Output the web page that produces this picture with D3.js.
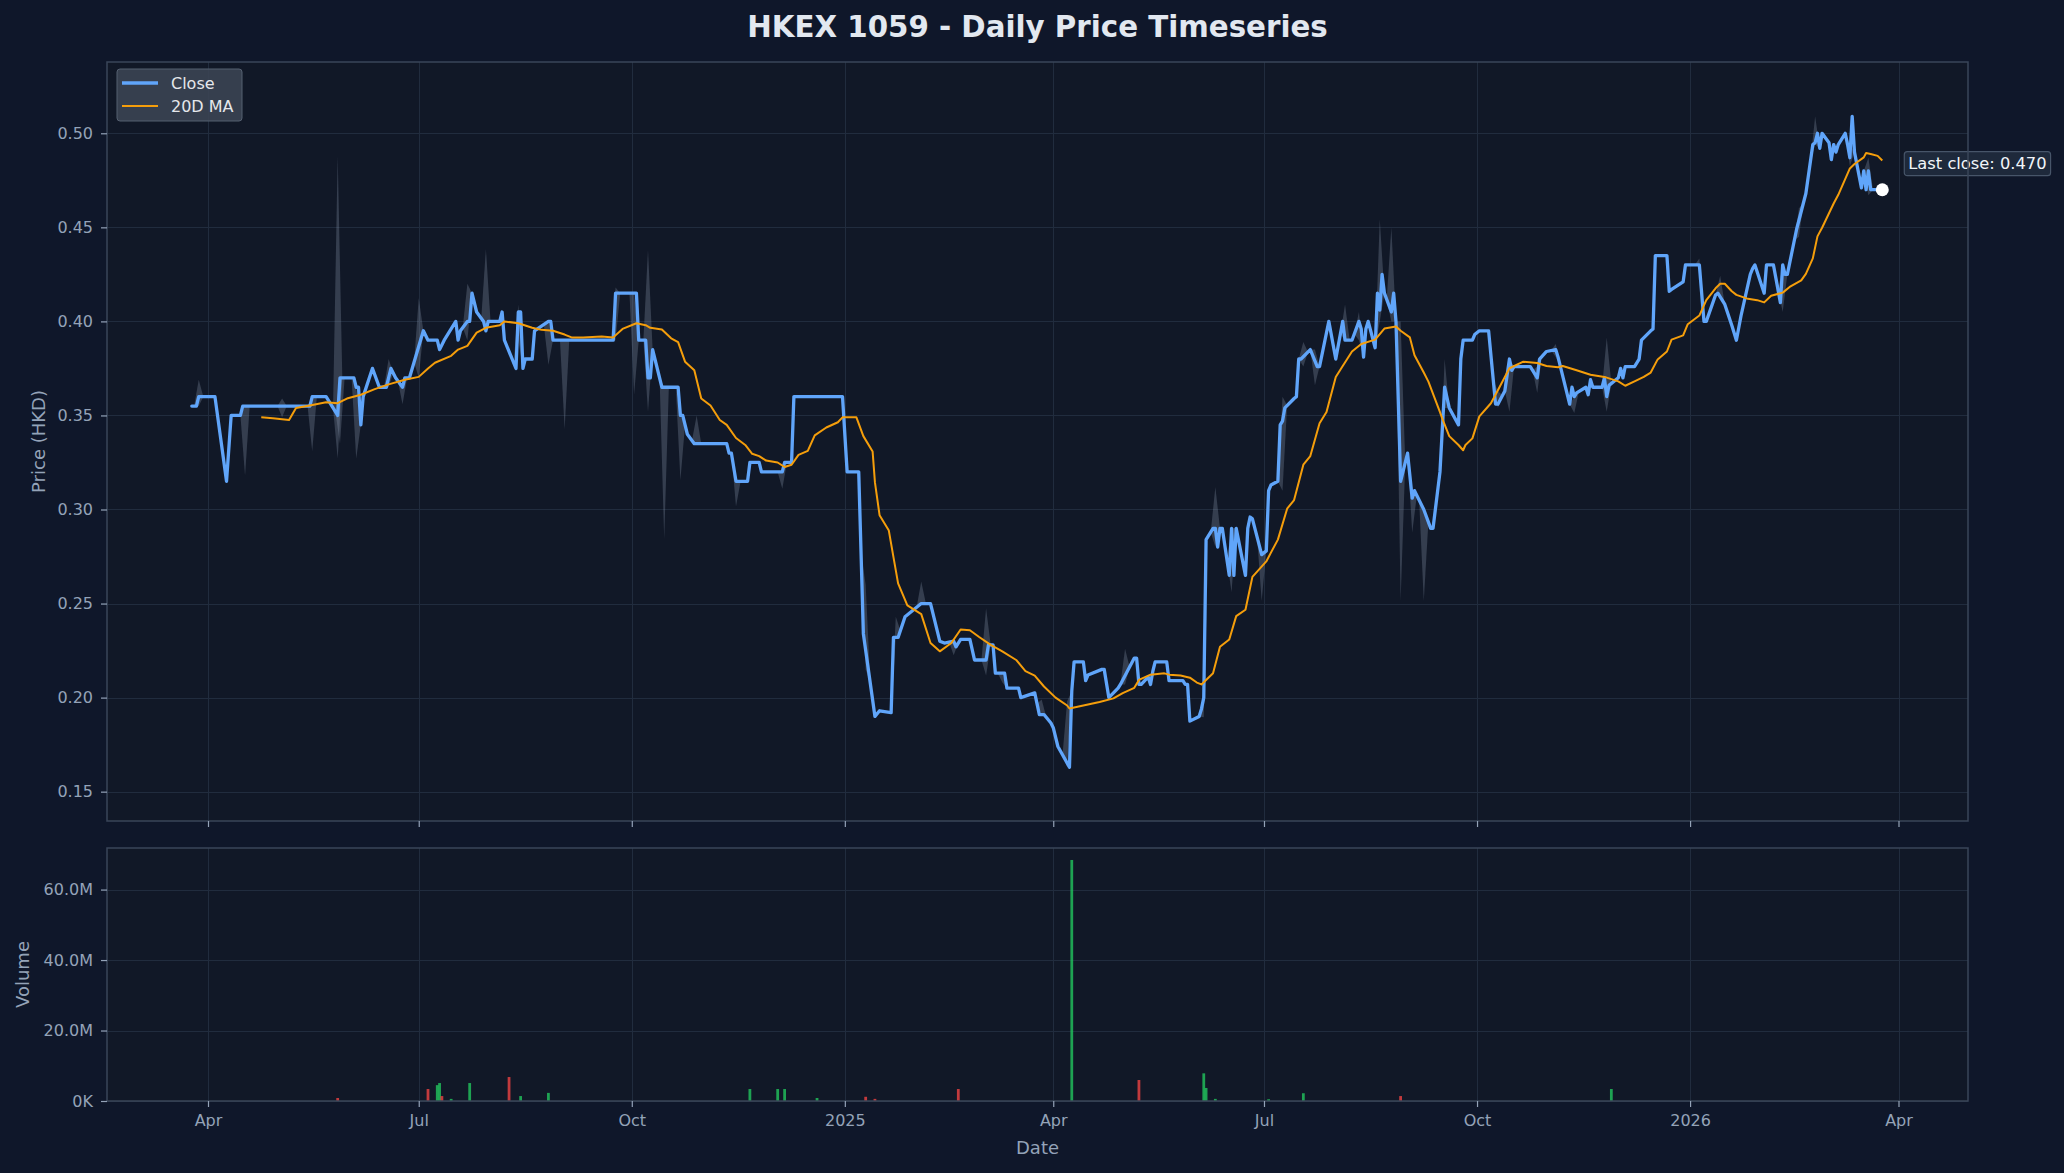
<!DOCTYPE html>
<html><head><meta charset="utf-8">
<script src="https://cdn.jsdelivr.net/npm/d3@7"></script>
<style>
html,body{margin:0;padding:0;background:#0f172a;}
svg{display:block;}
text{font-family:"DejaVu Sans",sans-serif;}
</style></head><body>
<svg id="chart" width="2064" height="1173"></svg>
<script>
// ---------------- DATA ----------------
const closeData = [
["2024-03-25",0.355],["2024-03-27",0.355],["2024-03-28",0.36],["2024-04-04",0.36],["2024-04-09",0.315],
["2024-04-11",0.35],["2024-04-15",0.35],["2024-04-16",0.355],["2024-05-15",0.355],["2024-05-16",0.36],
["2024-05-22",0.36],["2024-05-27",0.35],["2024-05-28",0.37],["2024-06-03",0.37],["2024-06-04",0.365],
["2024-06-05",0.365],["2024-06-06",0.345],["2024-06-07",0.36],["2024-06-11",0.375],["2024-06-14",0.365],
["2024-06-17",0.365],["2024-06-19",0.375],["2024-06-21",0.37],["2024-06-24",0.365],["2024-06-25",0.37],
["2024-06-27",0.37],["2024-07-03",0.395],["2024-07-05",0.39],["2024-07-09",0.39],["2024-07-10",0.385],
["2024-07-12",0.39],["2024-07-17",0.40],["2024-07-18",0.39],["2024-07-19",0.395],["2024-07-22",0.40],
["2024-07-23",0.40],["2024-07-24",0.415],["2024-07-26",0.405],["2024-07-29",0.40],["2024-07-30",0.395],
["2024-07-31",0.40],["2024-08-05",0.40],["2024-08-06",0.405],["2024-08-07",0.39],["2024-08-12",0.375],
["2024-08-13",0.405],["2024-08-14",0.405],["2024-08-15",0.375],["2024-08-16",0.38],["2024-08-19",0.38],
["2024-08-20",0.395],["2024-08-26",0.40],["2024-08-27",0.40],["2024-08-28",0.39],["2024-09-23",0.39],
["2024-09-24",0.415],["2024-10-03",0.415],["2024-10-04",0.39],["2024-10-07",0.39],["2024-10-08",0.37],
["2024-10-09",0.37],["2024-10-10",0.385],["2024-10-14",0.365],["2024-10-21",0.365],["2024-10-22",0.35],
["2024-10-23",0.35],["2024-10-25",0.34],["2024-10-28",0.335],["2024-11-11",0.335],["2024-11-12",0.33],
["2024-11-13",0.33],["2024-11-15",0.315],["2024-11-20",0.315],["2024-11-21",0.325],["2024-11-25",0.325],
["2024-11-26",0.32],["2024-12-05",0.32],["2024-12-06",0.325],["2024-12-09",0.325],["2024-12-10",0.36],
["2024-12-31",0.36],["2025-01-02",0.32],["2025-01-07",0.32],["2025-01-09",0.234],["2025-01-14",0.19],
["2025-01-16",0.193],["2025-01-21",0.192],["2025-01-22",0.232],["2025-01-24",0.232],["2025-01-27",0.243],
["2025-02-03",0.25],["2025-02-07",0.25],["2025-02-11",0.23],["2025-02-13",0.229],["2025-02-17",0.23],
["2025-02-18",0.227],["2025-02-20",0.231],["2025-02-24",0.231],["2025-02-26",0.22],["2025-03-03",0.22],
["2025-03-04",0.228],["2025-03-06",0.228],["2025-03-07",0.213],["2025-03-11",0.213],["2025-03-12",0.205],
["2025-03-17",0.205],["2025-03-18",0.20],["2025-03-24",0.2025],["2025-03-26",0.191],["2025-03-28",0.191],
["2025-03-31",0.1865],["2025-04-01",0.184],["2025-04-03",0.174],["2025-04-08",0.163],["2025-04-09",0.2035],
["2025-04-10",0.219],["2025-04-14",0.219],["2025-04-15",0.209],["2025-04-16",0.212],["2025-04-22",0.215],
["2025-04-23",0.215],["2025-04-25",0.20],["2025-04-29",0.205],["2025-04-30",0.207],["2025-05-06",0.221],
["2025-05-07",0.221],["2025-05-08",0.207],["2025-05-09",0.207],["2025-05-12",0.211],["2025-05-13",0.207],
["2025-05-14",0.214],["2025-05-15",0.219],["2025-05-20",0.219],["2025-05-21",0.209],["2025-05-27",0.209],
["2025-05-28",0.207],["2025-05-29",0.207],["2025-05-30",0.1875],["2025-06-03",0.19],["2025-06-04",0.194],
["2025-06-05",0.20],["2025-06-06",0.284],["2025-06-09",0.29],["2025-06-10",0.29],["2025-06-11",0.28],
["2025-06-12",0.29],["2025-06-13",0.29],["2025-06-16",0.265],["2025-06-17",0.29],["2025-06-18",0.265],
["2025-06-19",0.29],["2025-06-23",0.265],["2025-06-24",0.29],["2025-06-25",0.296],["2025-06-26",0.295],
["2025-06-30",0.276],["2025-07-02",0.278],["2025-07-03",0.31],["2025-07-04",0.313],["2025-07-07",0.315],
["2025-07-08",0.345],["2025-07-09",0.347],["2025-07-10",0.354],["2025-07-14",0.359],["2025-07-15",0.36],
["2025-07-16",0.38],["2025-07-17",0.38],["2025-07-21",0.385],["2025-07-24",0.376],["2025-07-25",0.376],
["2025-07-29",0.40],["2025-08-01",0.38],["2025-08-04",0.40],["2025-08-05",0.39],["2025-08-08",0.39],
["2025-08-11",0.40],["2025-08-12",0.396],["2025-08-13",0.381],["2025-08-14",0.396],["2025-08-15",0.40],
["2025-08-18",0.386],["2025-08-19",0.415],["2025-08-20",0.406],["2025-08-21",0.425],["2025-08-22",0.415],
["2025-08-25",0.405],["2025-08-26",0.415],["2025-08-27",0.40],["2025-08-29",0.315],["2025-09-01",0.33],
["2025-09-03",0.306],["2025-09-04",0.31],["2025-09-08",0.30],["2025-09-11",0.29],["2025-09-12",0.29],
["2025-09-15",0.32],["2025-09-17",0.365],["2025-09-19",0.354],["2025-09-23",0.345],["2025-09-24",0.38],
["2025-09-25",0.39],["2025-09-29",0.39],["2025-09-30",0.393],["2025-10-02",0.395],["2025-10-06",0.395],
["2025-10-09",0.356],["2025-10-10",0.356],["2025-10-13",0.363],["2025-10-15",0.38],["2025-10-16",0.374],
["2025-10-17",0.376],["2025-10-24",0.376],["2025-10-27",0.37],["2025-10-28",0.38],["2025-10-31",0.384],
["2025-11-04",0.385],["2025-11-05",0.381],["2025-11-06",0.376],["2025-11-10",0.356],["2025-11-11",0.365],
["2025-11-12",0.36],["2025-11-13",0.362],["2025-11-17",0.365],["2025-11-18",0.361],["2025-11-19",0.369],
["2025-11-20",0.365],["2025-11-24",0.365],["2025-11-25",0.37],["2025-11-26",0.36],["2025-11-27",0.366],
["2025-12-01",0.37],["2025-12-02",0.375],["2025-12-03",0.37],["2025-12-04",0.376],["2025-12-08",0.376],
["2025-12-10",0.38],["2025-12-11",0.39],["2025-12-15",0.395],["2025-12-16",0.396],["2025-12-17",0.435],
["2025-12-22",0.435],["2025-12-23",0.416],["2025-12-24",0.417],["2025-12-29",0.421],["2025-12-30",0.43],
["2026-01-05",0.43],["2026-01-07",0.40],["2026-01-08",0.40],["2026-01-12",0.414],["2026-01-13",0.415],
["2026-01-14",0.413],["2026-01-16",0.409],["2026-01-19",0.398],["2026-01-21",0.39],["2026-01-23",0.403],
["2026-01-27",0.425],["2026-01-28",0.428],["2026-01-29",0.43],["2026-02-02",0.415],["2026-02-03",0.43],
["2026-02-06",0.43],["2026-02-09",0.41],["2026-02-10",0.43],["2026-02-11",0.425],["2026-02-12",0.425],
["2026-02-16",0.449],["2026-02-20",0.468],["2026-02-23",0.494],["2026-02-24",0.495],["2026-02-25",0.50],
["2026-02-26",0.492],["2026-02-27",0.50],["2026-03-02",0.495],["2026-03-03",0.486],["2026-03-04",0.494],
["2026-03-05",0.49],["2026-03-06",0.494],["2026-03-09",0.50],["2026-03-10",0.494],["2026-03-11",0.487],
["2026-03-12",0.509],["2026-03-13",0.49],["2026-03-16",0.471],["2026-03-17",0.48],["2026-03-18",0.47],
["2026-03-19",0.48],["2026-03-20",0.47],["2026-03-25",0.47]
];

const maData = [
["2024-04-24",0.349],["2024-04-29",0.3485],["2024-05-06",0.3476],["2024-05-09",0.354],["2024-05-15",0.3553],
["2024-05-22",0.357],["2024-05-27",0.3565],["2024-05-31",0.359],["2024-06-06",0.361],["2024-06-12",0.364],
["2024-06-18",0.3665],["2024-06-25",0.369],["2024-07-01",0.3705],["2024-07-05",0.375],["2024-07-08",0.378],
["2024-07-15",0.3817],["2024-07-18",0.385],["2024-07-22",0.387],["2024-07-26",0.394],["2024-07-30",0.3966],
["2024-08-05",0.398],["2024-08-07",0.40],["2024-08-13",0.399],["2024-08-19",0.3966],["2024-08-23",0.3955],
["2024-08-28",0.395],["2024-09-02",0.393],["2024-09-05",0.3915],["2024-09-10",0.3915],["2024-09-18",0.392],
["2024-09-23",0.3915],["2024-09-27",0.396],["2024-10-03",0.399],["2024-10-07",0.398],["2024-10-09",0.3966],
["2024-10-14",0.3957],["2024-10-18",0.391],["2024-10-21",0.389],["2024-10-24",0.3786],["2024-10-28",0.374],
["2024-10-31",0.359],["2024-11-04",0.3553],["2024-11-08",0.3476],["2024-11-11",0.345],["2024-11-15",0.338],
["2024-11-19",0.3343],["2024-11-22",0.3296],["2024-11-25",0.3284],["2024-11-28",0.326],["2024-12-03",0.325],
["2024-12-06",0.3226],["2024-12-09",0.3238],["2024-12-12",0.329],["2024-12-16",0.3312],["2024-12-19",0.3394],
["2024-12-24",0.3436],["2024-12-29",0.3464],["2024-12-31",0.349],["2025-01-06",0.349],["2025-01-09",0.339],
["2025-01-13",0.3308],["2025-01-14",0.3144],["2025-01-16",0.297],["2025-01-20",0.2888],["2025-01-22",0.2747],
["2025-01-24",0.2607],["2025-01-28",0.249],["2025-02-03",0.2444],["2025-02-07",0.229],["2025-02-11",0.2246],
["2025-02-16",0.229],["2025-02-20",0.2362],["2025-02-24",0.2358],["2025-02-28",0.2322],["2025-03-05",0.228],
["2025-03-10",0.2246],["2025-03-16",0.22],["2025-03-20",0.2141],["2025-03-24",0.2117],["2025-03-28",0.2059],
["2025-04-02",0.20],["2025-04-07",0.1958],["2025-04-08",0.1942],["2025-04-14",0.1958],["2025-04-21",0.1977],
["2025-04-27",0.1996],["2025-05-01",0.2024],["2025-05-06",0.2052],["2025-05-08",0.2094],["2025-05-13",0.2122],
["2025-05-19",0.2129],["2025-05-21",0.2122],["2025-05-26",0.2117],["2025-05-30",0.2106],["2025-06-02",0.208],
["2025-06-04",0.207],["2025-06-09",0.2129],["2025-06-12",0.227],["2025-06-16",0.2309],["2025-06-19",0.2433],
["2025-06-23",0.2467],["2025-06-26",0.2642],["2025-07-02",0.2724],["2025-07-07",0.284],["2025-07-11",0.3004],
["2025-07-14",0.305],["2025-07-18",0.3238],["2025-07-21",0.3284],["2025-07-25",0.3459],["2025-07-28",0.3518],
["2025-08-01",0.3704],["2025-08-04",0.3763],["2025-08-08",0.384],["2025-08-12",0.388],["2025-08-18",0.3903],
["2025-08-22",0.3962],["2025-08-27",0.3973],["2025-08-29",0.395],["2025-09-02",0.3915],["2025-09-04",0.382],
["2025-09-08",0.3728],["2025-09-10",0.368],["2025-09-15",0.3518],["2025-09-16",0.3483],["2025-09-19",0.339],
["2025-09-23",0.3343],["2025-09-25",0.3315],["2025-09-26",0.3343],["2025-09-29",0.3378],["2025-10-02",0.3495],
["2025-10-07",0.3565],["2025-10-10",0.3634],["2025-10-13",0.3704],["2025-10-15",0.3751],["2025-10-21",0.3786],
["2025-10-27",0.3779],["2025-10-31",0.3763],["2025-11-05",0.3756],["2025-11-07",0.3763],["2025-11-13",0.374],
["2025-11-19",0.3716],["2025-11-25",0.3705],["2025-12-01",0.3681],["2025-12-04",0.3658],["2025-12-08",0.3681],
["2025-12-12",0.3705],["2025-12-15",0.3728],["2025-12-18",0.3798],["2025-12-22",0.384],["2025-12-24",0.3903],
["2025-12-29",0.3926],["2025-12-31",0.3985],["2026-01-05",0.4031],["2026-01-08",0.4113],["2026-01-12",0.4176],
["2026-01-14",0.42],["2026-01-16",0.42],["2026-01-19",0.416],["2026-01-21",0.4141],["2026-01-26",0.412],
["2026-01-30",0.4113],["2026-02-02",0.4101],["2026-02-05",0.4136],["2026-02-10",0.4153],["2026-02-13",0.4183],
["2026-02-18",0.4218],["2026-02-20",0.4253],["2026-02-23",0.4335],["2026-02-25",0.4452],["2026-02-27",0.4498],
["2026-03-04",0.4627],["2026-03-06",0.4673],["2026-03-11",0.4813],["2026-03-13",0.4837],["2026-03-17",0.4872],
["2026-03-18",0.4895],["2026-03-20",0.489],["2026-03-23",0.488],["2026-03-25",0.4855]
];

// intraday range spikes: [date, low, high]
const rangeData = [
["2024-03-28",0.355,0.369],["2024-04-17",0.318,0.355],["2024-05-03",0.349,0.359],["2024-05-16",0.331,0.36],
["2024-05-27",0.327,0.488],["2024-05-28",0.335,0.37],["2024-06-04",0.327,0.365],["2024-06-18",0.365,0.38],
["2024-06-24",0.356,0.365],["2024-07-01",0.37,0.4125],["2024-07-22",0.39,0.42],["2024-07-30",0.395,0.4386],
["2024-08-13",0.39,0.409],["2024-08-26",0.377,0.40],["2024-09-02",0.3425,0.39],["2024-09-24",0.39,0.418],
["2024-10-02",0.361,0.415],["2024-10-08",0.352,0.438],["2024-10-15",0.284,0.365],["2024-10-22",0.3156,0.35],
["2024-10-29",0.335,0.35],["2024-11-15",0.3016,0.315],["2024-12-05",0.311,0.32],["2025-01-10",0.215,0.26],
["2025-01-23",0.232,0.243],
["2025-02-03",0.25,0.2617],["2025-02-17",0.2225,0.23],["2025-03-03",0.2117,0.2475],["2025-03-10",0.2082,0.213],
["2025-03-27",0.191,0.199],["2025-04-07",0.163,0.198],["2025-05-02",0.207,0.226],["2025-06-05",0.1895,0.20],
["2025-06-10",0.28,0.312],["2025-06-17",0.256,0.29],["2025-06-30",0.2514,0.278],["2025-07-09",0.31,0.36],
["2025-07-18",0.376,0.389],["2025-07-23",0.366,0.385],["2025-08-05",0.39,0.409],["2025-08-11",0.39,0.405],
["2025-08-20",0.40,0.4545],["2025-08-25",0.40,0.45],["2025-08-29",0.2514,0.40],["2025-09-03",0.2876,0.31],
["2025-09-08",0.2514,0.30],["2025-09-17",0.354,0.38],["2025-10-10",0.354,0.363],["2025-10-15",0.352,0.38],
["2025-10-27",0.362,0.376],["2025-11-04",0.381,0.388],["2025-11-12",0.3513,0.36],["2025-11-26",0.352,0.3914],
["2026-01-05",0.43,0.4335],["2026-01-14",0.413,0.4242],["2026-02-10",0.405,0.43],["2026-02-17",0.445,0.46],
["2026-02-24",0.494,0.509],["2026-03-11",0.4825,0.494],["2026-03-19",0.467,0.487]
];

// volume bars: [date, volume, up?]
const volumeData = [
["2024-05-27",0.85e6,false],["2024-07-05",3.4e6,false],["2024-07-09",4.5e6,true],["2024-07-10",5.1e6,true],
["2024-07-11",1.4e6,false],["2024-07-15",0.6e6,true],["2024-07-23",5.1e6,true],["2024-08-09",6.8e6,false],
["2024-08-14",1.4e6,true],["2024-08-26",2.3e6,true],["2024-11-21",3.4e6,true],["2024-12-03",3.4e6,true],
["2024-12-06",3.4e6,true],["2024-12-20",0.85e6,true],["2025-01-10",1.2e6,false],["2025-01-14",0.6e6,false],
["2025-02-19",3.4e6,false],["2025-04-09",68.4e6,true],["2025-05-08",5.96e6,false],["2025-06-05",7.85e6,true],
["2025-06-06",3.7e6,true],["2025-06-10",0.6e6,true],["2025-07-03",0.5e6,true],["2025-07-18",2.2e6,true],
["2025-08-29",1.4e6,false],["2025-11-28",3.4e6,true]
];

const xTickDates = ["2024-04-01","2024-07-01","2024-10-01","2025-01-01","2025-04-01","2025-07-01","2025-10-01","2026-01-01","2026-04-01"];
const xTickLabels = ["Apr","Jul","Oct","2025","Apr","Jul","Oct","2026","Apr"];
const priceTicks = [0.15,0.20,0.25,0.30,0.35,0.40,0.45,0.50];
const volTicks = [0,20e6,40e6,60e6];
const volTickLabels = ["0K","20.0M","40.0M","60.0M"];

const titleText = "HKEX 1059 - Daily Price Timeseries";
const lastCloseLabel = "Last close: 0.470";

// ---------------- RENDER ----------------
const parse = d3.utcParse("%Y-%m-%d");
const DAY = 86400000;
const svg = d3.select("#chart");
const C = {bg:"#0f172a", panel:"#111827", tick:"#94a3b8",
           text:"#94a3b8", title:"#e2e8f0", close:"#60a5fa", ma:"#f59e0b", band:"#94a3b8",
           up:"#22c55e", down:"#ef4444"};

const L = 107, R = 1968;
const P = {top:62, bottom:821};
const V = {top:848, bottom:1101};

svg.append("rect").attr("width",2064).attr("height",1173).attr("fill",C.bg);

const x = d3.scaleUtc().domain([parse("2024-04-01"), parse("2026-04-01")]).range([208, 1898.5]);
const y = d3.scaleLinear().domain([0.1344, 0.5379]).range([P.bottom, P.top]);
const yv = d3.scaleLinear().domain([0, 71.8e6]).range([V.bottom, V.top]);

[[P.top,P.bottom],[V.top,V.bottom]].forEach(([t,b])=>{
  svg.append("rect").attr("x",L).attr("y",t).attr("width",R-L).attr("height",b-t).attr("fill",C.panel);
});

const defs = svg.append("defs");
defs.append("clipPath").attr("id","clipP").append("rect").attr("x",L).attr("y",P.top).attr("width",R-L).attr("height",P.bottom-P.top);
defs.append("clipPath").attr("id","clipV").append("rect").attr("x",L).attr("y",V.top).attr("width",R-L).attr("height",V.bottom-V.top);

// grid
const grid = svg.append("g").attr("stroke","#263244").attr("stroke-width",1).attr("opacity",0.8);
xTickDates.forEach(d=>{
  const xx = Math.round(x(parse(d)))+0.5;
  grid.append("line").attr("x1",xx).attr("x2",xx).attr("y1",P.top).attr("y2",P.bottom);
  grid.append("line").attr("x1",xx).attr("x2",xx).attr("y1",V.top).attr("y2",V.bottom);
});
priceTicks.forEach(v=>{
  const yy = Math.round(y(v))+0.5;
  grid.append("line").attr("x1",L).attr("x2",R).attr("y1",yy).attr("y2",yy);
});
volTicks.forEach(v=>{
  const yy = Math.round(yv(v))+0.5;
  grid.append("line").attr("x1",L).attr("x2",R).attr("y1",yy).attr("y2",yy);
});

const closePts = closeData.map(d=>({date:parse(d[0]), v:d[1]}));
const maPts = maData.map(d=>({date:parse(d[0]), v:d[1]}));

// geometric helper: position along the drawn close line
function closeAt(t){
  const i = d3.bisector(d=>d.date).left(closePts, t);
  if(i<=0) return closePts[0].v;
  if(i>=closePts.length) return closePts[closePts.length-1].v;
  const a = closePts[i-1], b = closePts[i];
  const f = (t - a.date)/(b.date - a.date);
  return a.v + (b.v - a.v)*f;
}

const gP = svg.append("g").attr("clip-path","url(#clipP)");

// range spikes
const w = 2.0*DAY;
gP.append("g").selectAll("path").data(rangeData).join("path")
  .attr("d", d=>{
    const t = parse(d[0]).getTime();
    const t0 = new Date(t - w), t1 = new Date(t + w), tm = new Date(t);
    const pts = [[x(t0), y(closeAt(t0))],[x(tm), y(d[2])],[x(t1), y(closeAt(t1))],[x(tm), y(d[1])]];
    return "M"+pts.map(p=>p.join(",")).join("L")+"Z";
  })
  .attr("fill",C.band).attr("fill-opacity",0.28).attr("stroke","none");

// close line
gP.append("path").datum(closePts)
  .attr("d", d3.line().x(d=>x(d.date)).y(d=>y(d.v)))
  .attr("fill","none").attr("stroke",C.close).attr("stroke-width",3.3)
  .attr("stroke-linejoin","round").attr("stroke-linecap","round");

// MA line
gP.append("path").datum(maPts)
  .attr("d", d3.line().x(d=>x(d.date)).y(d=>y(d.v)))
  .attr("fill","none").attr("stroke",C.ma).attr("stroke-width",2)
  .attr("stroke-linejoin","round");

// last close marker + label
const last = closePts[closePts.length-1];
const lx = x(last.date), ly = y(last.v);
svg.append("circle").attr("cx",lx).attr("cy",ly).attr("r",6.5).attr("fill","#ffffff");
const lab = svg.append("g").attr("transform",`translate(${lx+21},${ly-26})`);
const labText = lab.append("text").attr("x",5).attr("y",0).attr("dominant-baseline","central")
  .attr("font-size",16.3).attr("fill","#f1f5f9").text(lastCloseLabel);
const bb = labText.node().getBBox();
lab.insert("rect","text").attr("x",bb.x-4).attr("y",-12).attr("width",bb.width+8).attr("height",24)
  .attr("rx",3).attr("fill","#1e293b").attr("stroke","#475569").attr("stroke-width",1.2);

// volume bars
const gV = svg.append("g").attr("clip-path","url(#clipV)");
gV.selectAll("rect").data(volumeData).join("rect")
  .attr("x", d=>x(new Date(parse(d[0]).getTime()-0.6*DAY)))
  .attr("width", d=>x(new Date(parse(d[0]).getTime()+0.6*DAY)) - x(new Date(parse(d[0]).getTime()-0.6*DAY)))
  .attr("y", d=>yv(d[1]))
  .attr("height", d=>yv(0)-yv(d[1]))
  .attr("fill", d=>d[2]?C.up:C.down).attr("fill-opacity",0.8);

// spines
[[P.top,P.bottom],[V.top,V.bottom]].forEach(([t,b])=>{
  svg.append("rect").attr("x",L).attr("y",t).attr("width",R-L).attr("height",b-t)
    .attr("fill","none").attr("stroke","#3a4659").attr("stroke-width",1.5);
});

// axes
function styleAxis(g){
  g.select(".domain").remove();
  g.selectAll(".tick line").attr("stroke",C.tick).attr("stroke-width",1.2);
  g.selectAll(".tick text").attr("fill",C.text).attr("font-size",16).attr("font-family","DejaVu Sans");
}
svg.append("g").attr("transform",`translate(${L},0)`)
  .call(d3.axisLeft(y).tickValues(priceTicks).tickFormat(d3.format(".2f")).tickSize(6).tickPadding(8))
  .call(styleAxis);
svg.append("g").attr("transform",`translate(${L},0)`)
  .call(d3.axisLeft(yv).tickValues(volTicks).tickFormat((d,i)=>volTickLabels[i]).tickSize(6).tickPadding(8))
  .call(styleAxis);
svg.append("g").attr("transform",`translate(0,${P.bottom})`)
  .call(d3.axisBottom(x).tickValues(xTickDates.map(parse)).tickFormat("").tickSize(6))
  .call(styleAxis);
svg.append("g").attr("transform",`translate(0,${V.bottom})`)
  .call(d3.axisBottom(x).tickValues(xTickDates.map(parse)).tickFormat((d,i)=>xTickLabels[i]).tickSize(6).tickPadding(8))
  .call(styleAxis);

// legend
const lg = svg.append("g").attr("transform","translate(117,69)");
lg.append("rect").attr("width",125).attr("height",52).attr("rx",3)
  .attr("fill","#3b4453").attr("fill-opacity",0.9).attr("stroke","#556070").attr("stroke-width",1);
lg.append("line").attr("x1",5).attr("x2",41).attr("y1",14).attr("y2",14).attr("stroke",C.close).attr("stroke-width",3.3);
lg.append("line").attr("x1",5).attr("x2",41).attr("y1",37).attr("y2",37).attr("stroke",C.ma).attr("stroke-width",2);
lg.append("text").attr("x",54).attr("y",14).attr("dominant-baseline","central").attr("font-size",16).attr("fill","#e5e7eb").text("Close");
lg.append("text").attr("x",54).attr("y",37).attr("dominant-baseline","central").attr("font-size",16).attr("fill","#e5e7eb").text("20D MA");

// labels
svg.append("text").attr("x",(L+R)/2).attr("y",27).attr("text-anchor","middle").attr("dominant-baseline","central")
  .attr("font-size",29.3).attr("font-weight","bold").attr("fill",C.title).text(titleText);
svg.append("text").attr("x",(L+R)/2).attr("y",1147).attr("text-anchor","middle").attr("dominant-baseline","central")
  .attr("font-size",18).attr("fill",C.text).text("Date");
svg.append("text").attr("transform",`translate(38,${(P.top+P.bottom)/2}) rotate(-90)`).attr("text-anchor","middle")
  .attr("dominant-baseline","central").attr("font-size",18).attr("fill",C.text).text("Price (HKD)");
svg.append("text").attr("transform",`translate(22,${(V.top+V.bottom)/2}) rotate(-90)`).attr("text-anchor","middle")
  .attr("dominant-baseline","central").attr("font-size",18).attr("fill",C.text).text("Volume");
</script>
</body></html>
